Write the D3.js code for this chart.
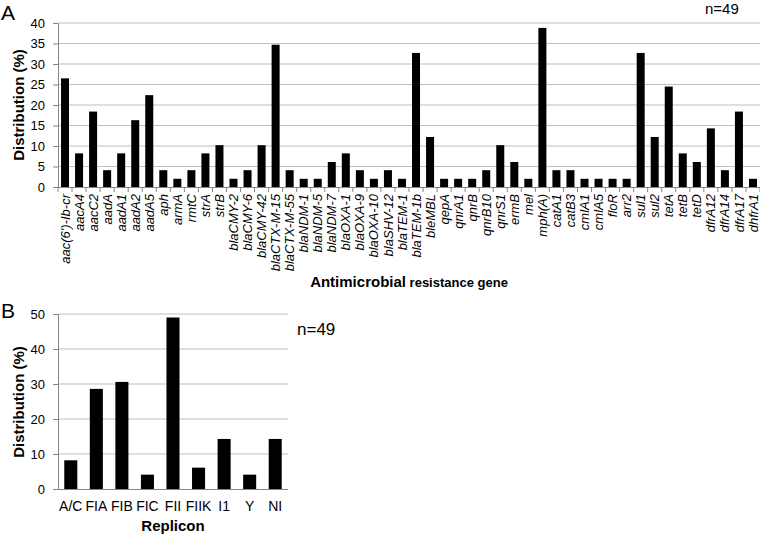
<!DOCTYPE html>
<html><head><meta charset="utf-8">
<script src="https://cdn.jsdelivr.net/npm/d3@7"></script>
<style>body{margin:0;background:#fff} svg{display:block;font-family:"Liberation Sans",Arial,sans-serif}</style>
</head><body><svg id="c" width="760" height="535"></svg>
<script>
// ---- Panel A data ----
const genes = ["aac(6')-Ib-cr","aacA4","aacC2","aadA","aadA1","aadA2","aadA5","aph","armA","rmtC","strA","strB",
  "blaCMY-2","blaCMY-6","blaCMY-42","blaCTX-M-15","blaCTX-M-55","blaNDM-1","blaNDM-5","blaNDM-7","blaOXA-1","blaOXA-9",
  "blaOXA-10","blaSHV-12","blaTEM-1","blaTEM-1b","bleMBL","qepA","qnrA1","qnrB","qnrB10","qnrS1","ermB","mel","mph(A)",
  "catA1","catB3","cmlA1","cmlA5","floR","arr2","sul1","sul2","tetA","tetB","tetD","dfrA12","dfrA14","dfrA17","dhfrA1"];
const geneValues = [26.5,8.2,18.4,4.1,8.2,16.3,22.4,4.1,2.0,4.1,8.2,10.2,
  2.0,4.1,10.2,34.7,4.1,2.0,2.0,6.1,8.2,4.1,
  2.0,4.1,2.0,32.7,12.2,2.0,2.0,2.0,4.1,10.2,6.1,2.0,38.8,
  4.1,4.1,2.0,2.0,2.0,2.0,32.7,12.2,24.5,8.2,6.1,14.3,4.1,18.4,2.0];
const geneTicks = [0,5,10,15,20,25,30,35,40];
// ---- Panel B data ----
const replicons = ["A/C","FIA","FIB","FIC","FII","FIIK","I1","Y","NI"];
const repliconValues = [8.2,28.6,30.6,4.1,49.0,6.1,14.3,4.1,14.3];
const repliconTicks = [0,10,20,30,40,50];

const svg = d3.select("#c");
const gridColor = "#bfbfbf", axisColor = "#868686";

function yAxisPanel(g, y, ticks, x0, x1){
  g.selectAll("line.grid").data(ticks.filter(t=>t>0)).join("line")
    .attr("x1", x0).attr("x2", x1).attr("y1", d=>y(d)).attr("y2", d=>y(d))
    .attr("stroke", gridColor).attr("stroke-width", 1);
  const ax = g.append("g").attr("transform", `translate(${x0},0)`)
    .call(d3.axisLeft(y).tickValues(ticks).tickSize(5).tickPadding(8).tickFormat(d3.format("d")));
  ax.select(".domain").attr("stroke", axisColor);
  ax.selectAll(".tick line").attr("stroke", axisColor);
  ax.selectAll(".tick text").attr("font-size", 13).attr("fill", "#000")
    .attr("font-family", '"Liberation Sans",Arial,sans-serif');
}

// ---- Panel A ----
{
  const g = svg.append("g");
  const x = d3.scaleBand().domain(genes).range([58, 760]).paddingInner(0.43).paddingOuter(0.215);
  const y = d3.scaleLinear().domain([0, 40]).range([187, 23]);
  yAxisPanel(g, y, geneTicks, 58, 760);
  g.selectAll("rect").data(genes).join("rect")
    .attr("x", d=>x(d)).attr("width", x.bandwidth())
    .attr("y", (d,i)=>y(geneValues[i])).attr("height", (d,i)=>y(0)-y(geneValues[i]))
    .attr("fill", "#000");
  g.append("line").attr("x1",58).attr("x2",760).attr("y1",y(0)+0.5).attr("y2",y(0)+0.5).attr("stroke",axisColor);
  const step = x.step();
  g.selectAll("line.xt").data(d3.range(genes.length+1)).join("line").attr("class","xt")
    .attr("x1", i=>58+i*step).attr("x2", i=>58+i*step).attr("y1", y(0)).attr("y2", y(0)+5)
    .attr("stroke", axisColor);
  g.selectAll("text.lab").data(genes).join("text").attr("class","lab")
    .attr("transform", d=>`translate(${x(d)+x.bandwidth()/2},194) rotate(-90)`)
    .attr("text-anchor","end").attr("dy","0.35em")
    .attr("font-size",13).attr("font-style","italic").text(d=>d);
  g.append("text").attr("transform","translate(19,105) rotate(-90)").attr("text-anchor","middle")
    .attr("dy","0.35em").attr("font-size",15).attr("font-weight","bold").text("Distribution (%)");
  const t = g.append("text").attr("x",409).attr("y",287).attr("text-anchor","middle").attr("font-weight","bold");
  t.append("tspan").attr("font-size",15).text("Antimicrobial");
  t.append("tspan").attr("font-size",13).text(" resistance gene");
  g.append("text").attr("x",1).attr("y",20).attr("font-size",21).text("A");
  g.append("text").attr("x",705).attr("y",14).attr("font-size",15).text("n=49");
}

// ---- Panel B ----
{
  const g = svg.append("g");
  const x = d3.scaleBand().domain(replicons).range([58, 288]).paddingInner(0.49).paddingOuter(0.245);
  const y = d3.scaleLinear().domain([0, 50]).range([489, 314]);
  yAxisPanel(g, y, repliconTicks, 58, 288);
  g.selectAll("rect").data(replicons).join("rect")
    .attr("x", d=>x(d)).attr("width", x.bandwidth())
    .attr("y", (d,i)=>y(repliconValues[i])).attr("height", (d,i)=>y(0)-y(repliconValues[i]))
    .attr("fill", "#000");
  g.append("line").attr("x1",58).attr("x2",288).attr("y1",y(0)+0.5).attr("y2",y(0)+0.5).attr("stroke",axisColor);
  g.selectAll("text.lab").data(replicons).join("text").attr("class","lab")
    .attr("x", d=>x(d)+x.bandwidth()/2).attr("y", 511).attr("text-anchor","middle")
    .attr("font-size",14).text(d=>d);
  g.append("text").attr("transform","translate(19,402) rotate(-90)").attr("text-anchor","middle")
    .attr("dy","0.35em").attr("font-size",15).attr("font-weight","bold").text("Distribution (%)");
  g.append("text").attr("x",173).attr("y",531).attr("text-anchor","middle").attr("font-size",15)
    .attr("font-weight","bold").text("Replicon");
  g.append("text").attr("x",1).attr("y",318).attr("font-size",21).text("B");
  g.append("text").attr("x",297).attr("y",335).attr("font-size",17).text("n=49");
}
</script></body></html>
